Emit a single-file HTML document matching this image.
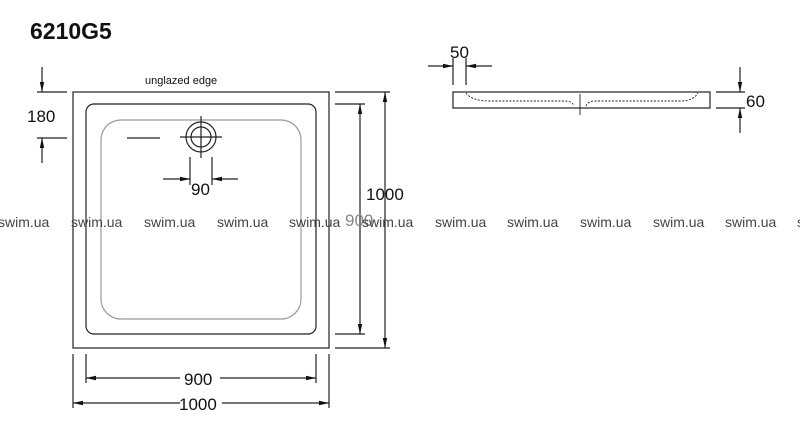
<!DOCTYPE html>
<html><head><style>body{margin:0;background:#fff}svg{display:block}</style></head><body>
<svg width="800" height="447" viewBox="0 0 800 447" xmlns="http://www.w3.org/2000/svg" font-family="Liberation Sans, sans-serif">
<defs><marker id="a" markerWidth="10" markerHeight="6" refX="10" refY="3" orient="auto" markerUnits="userSpaceOnUse"><path d="M0,0.8 L10,3 L0,5.2z" fill="#111"/></marker></defs>
<text x="30" y="39" font-size="23" font-weight="bold" fill="#111">6210G5</text>
<g stroke="#222" fill="none" stroke-width="1.2">
<rect x="73" y="92" width="256" height="256"/>
<rect x="86" y="104" width="230" height="230" rx="8"/>
<rect x="101" y="120" width="200" height="199" rx="20" stroke="#999"/>
<circle cx="201" cy="137" r="15"/><circle cx="201" cy="137" r="10"/>
<path d="M180 137H222M201 116V158M127 138H160"/>
<path d="M37 92H67M37 138H67"/>
<path d="M42 67V92" marker-end="url(#a)"/><path d="M42 163V138" marker-end="url(#a)"/>
<path d="M190 157V185M212 157V185"/>
<path d="M163 179H190" marker-end="url(#a)"/><path d="M238 179H212" marker-end="url(#a)"/>
<path d="M335 92H390M335 104H365M335 334H365M335 348H390"/>
<path d="M360 219V104" marker-end="url(#a)"/><path d="M360 219V334" marker-end="url(#a)"/>
<path d="M385 220V92" marker-end="url(#a)"/><path d="M385 220V348" marker-end="url(#a)"/>
<path d="M86 354V383M316 354V383M73 354V408M329 354V408"/>
<path d="M180 378H86" marker-end="url(#a)"/><path d="M220 378H316" marker-end="url(#a)"/>
<path d="M180 403H73" marker-end="url(#a)"/><path d="M222 403H329" marker-end="url(#a)"/>
<rect x="453" y="92" width="257" height="16"/>
<path d="M466 93Q472 101 490 101H565Q572 101 574 106M586 106Q588 101 595 101H680Q693 101 698 93" stroke-dasharray="2,1.5" stroke-width="0.9"/>
<path d="M580 94V115" stroke-width="0.9"/>
<path d="M453 58V85M466 58V85"/>
<path d="M428 66H453" marker-end="url(#a)"/><path d="M492 66H466" marker-end="url(#a)"/>
<path d="M716 92H745M716 108H745"/>
<path d="M740 67V92" marker-end="url(#a)"/><path d="M740 133V108" marker-end="url(#a)"/>
</g>
<g fill="#111" font-size="17">
<text x="145" y="84" font-size="11">unglazed edge</text>
<text x="27" y="122">180</text>
<text x="191" y="195">90</text>
<text x="366" y="200">1000</text>
<text x="345" y="226" fill="#888">900</text>
<text x="184" y="385">900</text>
<text x="179" y="410">1000</text>
<text x="450" y="58">50</text>
<text x="746" y="107">60</text>
</g>
<g fill="#444" font-size="14">
<text x="-2" y="227">swim.ua</text><text x="71" y="227">swim.ua</text><text x="144" y="227">swim.ua</text><text x="217" y="227">swim.ua</text><text x="289" y="227">swim.ua</text><text x="362" y="227">swim.ua</text><text x="435" y="227">swim.ua</text><text x="507" y="227">swim.ua</text><text x="580" y="227">swim.ua</text><text x="653" y="227">swim.ua</text><text x="725" y="227">swim.ua</text><text x="797" y="227">swim.ua</text>
</g>
</svg>
</body></html>
